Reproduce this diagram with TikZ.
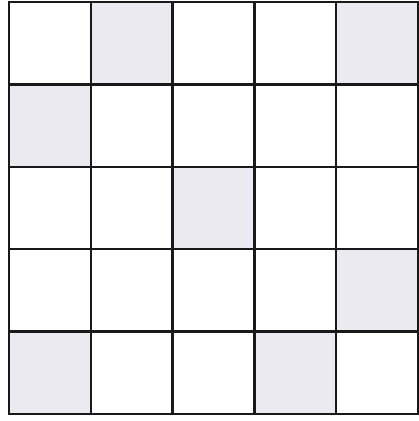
\documentclass[tikz,border=0pt]{standalone}
\usepackage{tikz}
\usepackage{xcolor}
\definecolor{cellgray}{RGB}{236,234,241}

\begin{document}
\begin{tikzpicture}[x=0.025cm, y=-0.025cm,
      cell/.style={fill=cellgray, draw=none},
      grid/.style={draw=black!90, line width=1.8pt, line cap=rect}]
    \useasboundingbox (0,0) rectangle (419,421);
    % shaded cells (column, row)
    \foreach \c/\r in {2/1, 5/1, 1/2, 3/3, 5/4, 1/5, 4/5} {
      \path[cell] ({9+(\c-1)*81.8},{2+(\r-1)*82.4}) rectangle ++(81.8,82.4);
    }
    % grid lines
    \foreach \i in {0,...,5} {
      \draw[grid] ({9+\i*81.8},2) -- ({9+\i*81.8},414);
      \draw[grid] (9,{2+\i*82.4}) -- (418,{2+\i*82.4});
    }
  \end{tikzpicture}
\end{document}
